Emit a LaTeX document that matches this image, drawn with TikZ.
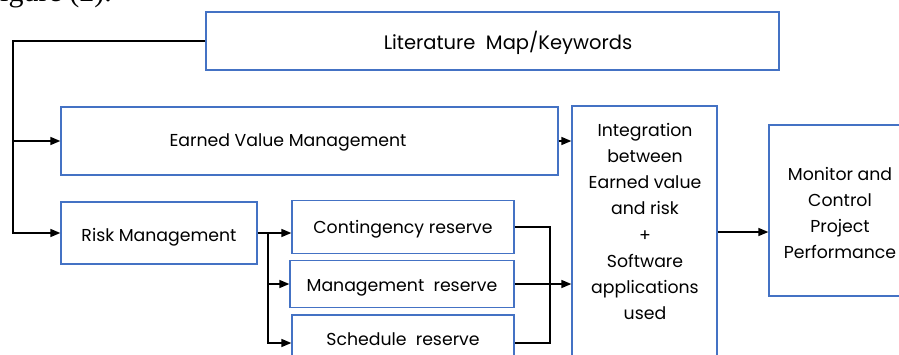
\documentclass[tikz,border=0pt]{standalone}
\usepackage{fontspec}
\setmainfont{Poppins}
\newfontfamily\capserif{Liberation Serif}
\usetikzlibrary{arrows.meta}
\definecolor{boxblue}{RGB}{68,114,196}
\tikzset{
  box/.style={draw=boxblue, line width=1.3pt, fill=white, inner sep=0pt},
  lbl/.style={font=\fontsize{17.3}{26.2}\selectfont, align=center, inner sep=0pt},
  conn/.style={draw=black, line width=1.5pt},
  arr/.style={conn, -{Triangle[length=10pt,width=8pt]}}
}
\begin{document}
\begin{tikzpicture}[x=1pt, y=-1pt]
\useasboundingbox (0,0) rectangle (899,354);

% caption fragment at the top edge
\node[anchor=base west, inner sep=0pt, font=\capserif\fontsize{30}{30}\selectfont] (cap) at (0,1) {igure (2).};

% boxes and their labels
\node[box, minimum width=573pt, minimum height=58pt] (lit) at (492.5,41) {};
\node[lbl, font=\fontsize{19.5}{24}\selectfont] (littxt) at (508,43) {Literature\ \ Map/Keywords};

\node[box, minimum width=497pt, minimum height=68pt] (evm) at (309.5,141) {};
\node[lbl] (evmtxt) at (288,142) {Earned Value Management};

\node[box, minimum width=196pt, minimum height=62pt] (risk) at (159,233) {};
\node[lbl] (risktxt) at (159,237) {Risk Management};

\node[box, minimum width=222pt, minimum height=53pt] (cont) at (403,227) {};
\node[lbl] (conttxt) at (403,229) {Contingency reserve};

\node[box, minimum width=224pt, minimum height=47pt] (mgmt) at (402,284) {};
\node[lbl] (mgmttxt) at (402,288) {Management\ \ reserve};

\node[box, minimum width=222pt, minimum height=56pt] (sched) at (403,343) {};
\node[lbl] (schedtxt) at (403,339) {Schedule\ \ reserve};

\node[box, minimum width=145pt, minimum height=274pt] (int) at (644.5,243) {};
\node[lbl, anchor=north] (inttxt) at (645,123) {Integration\\between\\Earned value\\and risk\\+\\Software\\applications\\used};

\node[box, minimum width=161pt, minimum height=171pt] (mon) at (849.5,210.5) {};
\node[lbl] (montxt) at (840,213) {Monitor and\\Control\\Project\\Performance};

% literature feeds both management branches
\coordinate (tl) at (13,41);
\draw[arr] (lit.west) -- (tl) |- (risk.west);
\draw[arr] (tl |- evm.west) -- (evm.west);

% earned value into integration
\draw[arr] (evm.east) -- (evm.east -| int.west);

% risk management splits into the three reserves
\coordinate (br) at (268,233);
\draw[arr] (risk.east) -- (risk.east -| cont.west);
\draw[arr] (br) |- (mgmt.west);
\draw[arr] (br) |- (sched.west);

% reserves merge into integration
\coordinate (mx) at (550,0);
\draw[conn] (cont.east) -- (mx |- cont.east) -- (mx |- sched.east) -- (sched.east);
\draw[arr] (mgmt.east) -- (mgmt.east -| int.west);

% integration to monitoring
\coordinate (im) at (0,232);
\draw[arr] (int.east |- im) -- (mon.west |- im);
\end{tikzpicture}
\end{document}
